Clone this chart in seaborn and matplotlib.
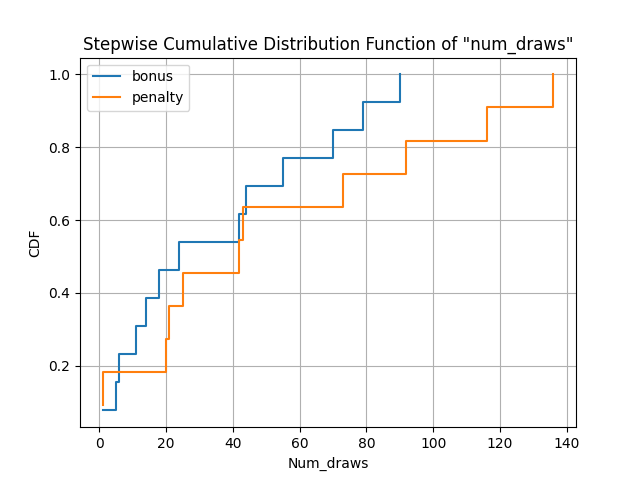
import numpy as np
import pandas as pd
import seaborn as sns
from matplotlib import pyplot as plt

# num_draws per group
bonus_draws = [1, 5, 6, 11, 14, 18, 24, 42, 44, 55, 70, 79, 90]
penalty_draws = [1, 1, 20, 21, 25, 42, 43, 73, 92, 116, 136]

groups = {'bonus': bonus_draws, 'penalty': penalty_draws}

fig, ax = plt.subplots(figsize=(6.4, 4.8), dpi=100)

for name, draws in groups.items():
    x = np.sort(draws)
    cdf = np.arange(1, len(x) + 1) / len(x)
    df = pd.DataFrame({'num_draws': x, 'cdf': cdf})
    sns.lineplot(data=df, x='num_draws', y='cdf', drawstyle='steps-post',
                 estimator=None, sort=False, label=name, ax=ax)

ax.set_title('Stepwise Cumulative Distribution Function of "num_draws"')
ax.set_xlabel('Num_draws')
ax.set_ylabel('CDF')
ax.grid(True)
ax.legend(loc='upper left')

plt.savefig('out.png', dpi=100)
